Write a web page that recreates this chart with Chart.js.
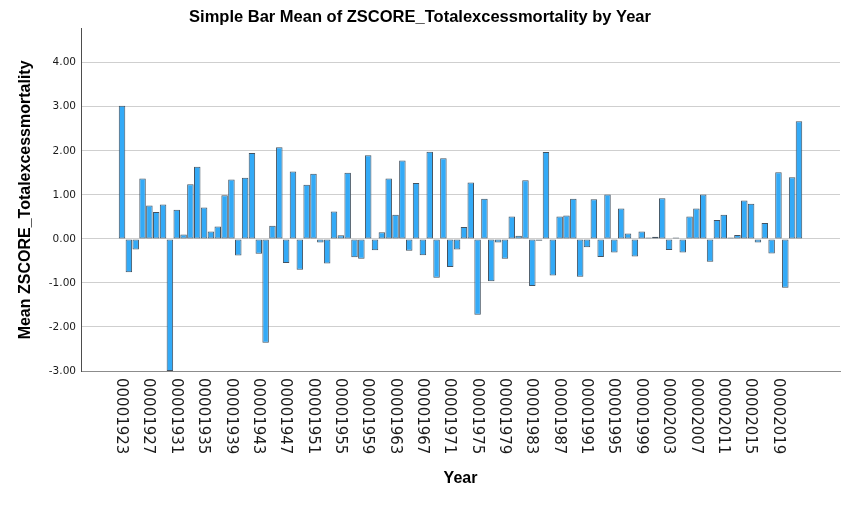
<!DOCTYPE html>
<html>
<head>
<meta charset="utf-8">
<script src="https://cdn.jsdelivr.net/npm/chart.js@4.4.0/dist/chart.umd.min.js"></script>
<style>
  html, body { margin: 0; padding: 0; background: #fff; }
  #chart_zscore_year { display: block; }
</style>
</head>
<body>
<canvas id="chart_zscore_year" width="858" height="508"></canvas>
<script>
// one bar per year, 1923 - 2022
var arr_years = [
    1923, 1924, 1925, 1926, 1927, 1928, 1929, 1930, 1931, 1932,
    1933, 1934, 1935, 1936, 1937, 1938, 1939, 1940, 1941, 1942,
    1943, 1944, 1945, 1946, 1947, 1948, 1949, 1950, 1951, 1952,
    1953, 1954, 1955, 1956, 1957, 1958, 1959, 1960, 1961, 1962,
    1963, 1964, 1965, 1966, 1967, 1968, 1969, 1970, 1971, 1972,
    1973, 1974, 1975, 1976, 1977, 1978, 1979, 1980, 1981, 1982,
    1983, 1984, 1985, 1986, 1987, 1988, 1989, 1990, 1991, 1992,
    1993, 1994, 1995, 1996, 1997, 1998, 1999, 2000, 2001, 2002,
    2003, 2004, 2005, 2006, 2007, 2008, 2009, 2010, 2011, 2012,
    2013, 2014, 2015, 2016, 2017, 2018, 2019, 2020, 2021, 2022
];

var arr_mean_zscore = [
     3.02, -0.76, -0.24,  1.37,  0.76,  0.61,  0.78, -3.00,  0.66,  0.10,
     1.24,  1.64,  0.71,  0.17,  0.28,  0.99,  1.35, -0.38,  1.39,  1.95,
    -0.34, -2.36,  0.30,  2.08, -0.55,  1.53, -0.70,  1.23,  1.48, -0.08,
    -0.56,  0.62,  0.08,  1.50, -0.42, -0.45,  1.90, -0.26,  0.15,  1.37,
     0.55,  1.78, -0.27,  1.27, -0.37,  1.98, -0.88,  1.83, -0.64, -0.24,
     0.27,  1.28, -1.72,  0.91, -0.96, -0.08, -0.45,  0.51,  0.07,  1.33,
    -1.07, -0.04,  1.97, -0.83,  0.51,  0.53,  0.91, -0.86, -0.19,  0.90,
    -0.41,  1.01, -0.31,  0.69,  0.12, -0.40,  0.17,  0.03,  0.05,  0.92,
    -0.25,  0.03, -0.31,  0.51,  0.69,  1.01, -0.52,  0.43,  0.55,  0.03,
     0.09,  0.87,  0.80, -0.08,  0.36, -0.33,  1.51, -1.11,  1.40,  2.67
];

// labelled years on the x axis (every 4th)
var arr_tick_years = [
    1923, 1927, 1931, 1935, 1939, 1943, 1947, 1951, 1955, 1959, 1963, 1967, 1971,
    1975, 1979, 1983, 1987, 1991, 1995, 1999, 2003, 2007, 2011, 2015, 2019
];

var arr_tick_labels = [
    "00001923", "00001927", "00001931", "00001935", "00001939", "00001943", "00001947",
    "00001951", "00001955", "00001959", "00001963", "00001967", "00001971", "00001975",
    "00001979", "00001983", "00001987", "00001991", "00001995", "00001999", "00002003",
    "00002007", "00002011", "00002015", "00002019"
];

// x tick labels read top to bottom, so they are drawn here
var year_tick_plugin = {
    id: 'year_ticks',
    afterDraw: function (chart) {
        var scale = chart.scales.x;
        var ctx = chart.ctx;
        ctx.save();
        ctx.font = '15px "DejaVu Sans"';
        ctx.fillStyle = '#1a1a1a';
        ctx.textAlign = 'left';
        ctx.textBaseline = 'middle';
        arr_tick_years.forEach(function (year, i) {
            ctx.save();
            ctx.translate(scale.getPixelForValue(year) - 1, scale.top + 7);
            ctx.rotate(Math.PI / 2);
            ctx.fillText(arr_tick_labels[i], 0, 0);
            ctx.restore();
        });
        ctx.restore();
    }
};

var chart_data = arr_years.map(function (year, i) {
    return {x: year, y: arr_mean_zscore[i]};
});

var chart_zscore_settings = {
    type: 'bar',
    data: {
        datasets: [{
            data: chart_data,
            backgroundColor: '#33aaf7',
            borderColor: '#445361',
            borderWidth: 1,
            borderSkipped: false,
            barPercentage: 0.95,
            categoryPercentage: 1.0
        }]
    },
    options: {
        responsive: false,
        animation: false,
        layout: {
            padding: {left: 0, right: 18, top: 0, bottom: 0}
        },
        plugins: {
            legend: {display: false},
            tooltip: {enabled: false},
            title: {
                display: true,
                text: 'Simple Bar Mean of ZSCORE_Totalexcessmortality by Year',
                color: '#000',
                font: {family: '"Liberation Sans"', size: 16.5, weight: 'bold'},
                padding: {top: 8, bottom: 1}
            }
        },
        scales: {
            x: {
                type: 'linear',
                offset: false,
                min: 1917,
                max: 2028,
                grid: {display: true, color: 'rgba(0,0,0,0)', drawTicks: false, offset: false},
                border: {display: true, color: '#8c8c8c', width: 1},
                ticks: {display: false},
                title: {
                    display: true,
                    text: 'Year',
                    color: '#000',
                    font: {family: '"Liberation Sans"', size: 16, weight: 'bold'},
                    padding: {top: 0, bottom: 20}
                },
                afterFit: function (scale) {
                    scale.height = 137;
                }
            },
            y: {
                min: -3,
                max: 4.77,
                grid: {color: '#cfcfcf', lineWidth: 1, drawTicks: false},
                border: {display: true, color: '#4d4d4d', width: 1},
                ticks: {
                    stepSize: 1,
                    includeBounds: false,
                    padding: 5,
                    color: '#1a1a1a',
                    font: {family: '"DejaVu Sans"', size: 10.5},
                    callback: function (value) {
                        return value.toFixed(2);
                    }
                },
                title: {
                    display: true,
                    text: 'Mean ZSCORE_Totalexcessmortality',
                    color: '#000',
                    font: {family: '"Liberation Sans"', size: 16, weight: 'bold'},
                    padding: {top: 16, bottom: 0}
                },
                afterFit: function (scale) {
                    scale.width = 81;
                }
            }
        }
    },
    plugins: [year_tick_plugin]
};

var chart_zscore = new Chart(document.getElementById('chart_zscore_year'), chart_zscore_settings);
</script>
</body>
</html>
